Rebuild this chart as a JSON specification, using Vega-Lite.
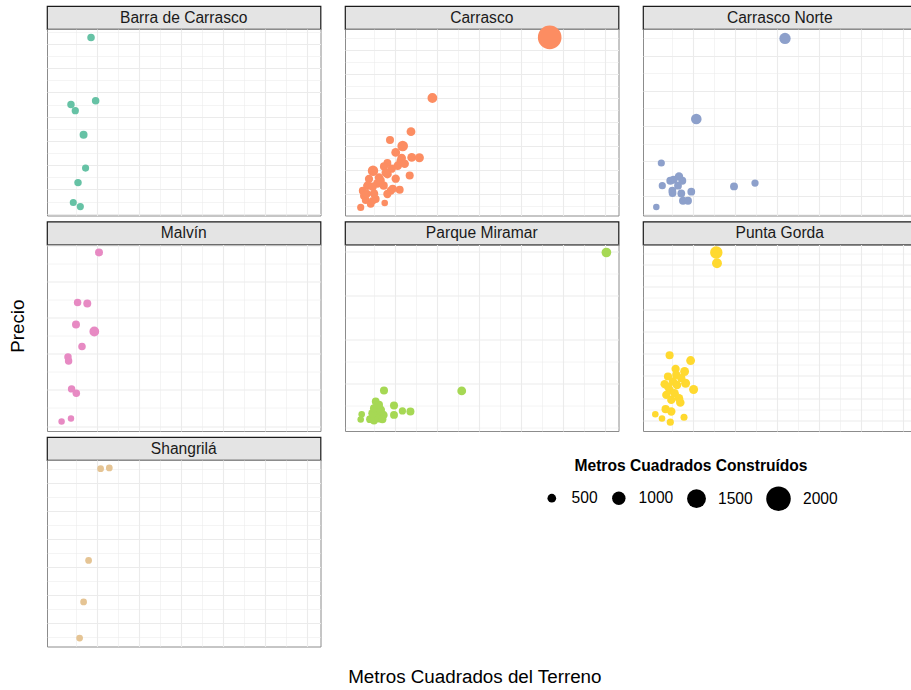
{
  "$schema": "https://vega.github.io/schema/vega-lite/v6.json",
  "padding": {"left": 8, "top": 5, "right": 5, "bottom": 5},
  "config": {
    "font": "Liberation Sans",
    "view": {"stroke": "#8C8C8C", "strokeWidth": 1},
    "axis": {"labels": false, "ticks": false, "domain": false, "grid": true, "gridColor": "#EBEBEB", "minExtent": 0, "maxExtent": 0},
    "title": {"fontWeight": "normal", "fontSize": 18.8, "color": "#000000"}
  },
  "datasets": {
    "casas": [
      {"barrio": "Barra de Carrasco", "terreno": 1730, "precio": 827000, "construidos": 350},
      {"barrio": "Barra de Carrasco", "terreno": 1950, "precio": 566000, "construidos": 350},
      {"barrio": "Barra de Carrasco", "terreno": 775, "precio": 550000, "construidos": 330},
      {"barrio": "Barra de Carrasco", "terreno": 980, "precio": 525000, "construidos": 300},
      {"barrio": "Barra de Carrasco", "terreno": 1375, "precio": 426000, "construidos": 410},
      {"barrio": "Barra de Carrasco", "terreno": 1470, "precio": 288000, "construidos": 280},
      {"barrio": "Barra de Carrasco", "terreno": 1110, "precio": 228000, "construidos": 330},
      {"barrio": "Barra de Carrasco", "terreno": 885, "precio": 146000, "construidos": 270},
      {"barrio": "Barra de Carrasco", "terreno": 1220, "precio": 129000, "construidos": 290},

      {"barrio": "Carrasco", "terreno": 9380, "precio": 3762000, "construidos": 1920},
      {"barrio": "Carrasco", "terreno": 3795, "precio": 2500000, "construidos": 630},
      {"barrio": "Carrasco", "terreno": 2776, "precio": 1798000, "construidos": 520},
      {"barrio": "Carrasco", "terreno": 1776, "precio": 1625000, "construidos": 420},
      {"barrio": "Carrasco", "terreno": 2381, "precio": 1500000, "construidos": 720},
      {"barrio": "Carrasco", "terreno": 2048, "precio": 1367000, "construidos": 520},
      {"barrio": "Carrasco", "terreno": 2810, "precio": 1262000, "construidos": 520},
      {"barrio": "Carrasco", "terreno": 3176, "precio": 1255000, "construidos": 540},
      {"barrio": "Carrasco", "terreno": 2333, "precio": 1250000, "construidos": 500},
      {"barrio": "Carrasco", "terreno": 1652, "precio": 1146000, "construidos": 400},
      {"barrio": "Carrasco", "terreno": 1490, "precio": 1075000, "construidos": 430},
      {"barrio": "Carrasco", "terreno": 2714, "precio": 887500, "construidos": 420},
      {"barrio": "Carrasco", "terreno": 967, "precio": 985400, "construidos": 700},
      {"barrio": "Carrasco", "terreno": 1652, "precio": 916700, "construidos": 520},
      {"barrio": "Carrasco", "terreno": 1252, "precio": 845800, "construidos": 480},
      {"barrio": "Carrasco", "terreno": 776, "precio": 812500, "construidos": 450},
      {"barrio": "Carrasco", "terreno": 1176, "precio": 720800, "construidos": 500},
      {"barrio": "Carrasco", "terreno": 700, "precio": 672900, "construidos": 500},
      {"barrio": "Carrasco", "terreno": 1810, "precio": 568800, "construidos": 410},
      {"barrio": "Carrasco", "terreno": 2238, "precio": 589600, "construidos": 400},
      {"barrio": "Carrasco", "terreno": 1652, "precio": 500000, "construidos": 450},
      {"barrio": "Carrasco", "terreno": 1014, "precio": 512500, "construidos": 480},
      {"barrio": "Carrasco", "terreno": 538, "precio": 464600, "construidos": 400},
      {"barrio": "Carrasco", "terreno": 619, "precio": 375000, "construidos": 380},
      {"barrio": "Carrasco", "terreno": 1095, "precio": 395800, "construidos": 400},
      {"barrio": "Carrasco", "terreno": 857, "precio": 291700, "construidos": 360},
      {"barrio": "Carrasco", "terreno": 1524, "precio": 312500, "construidos": 150},
      {"barrio": "Carrasco", "terreno": 381, "precio": 220800, "construidos": 280},
      {"barrio": "Carrasco", "terreno": 2286, "precio": 1193700, "construidos": 480},
      {"barrio": "Carrasco", "terreno": 2143, "precio": 1089600, "construidos": 500},
      {"barrio": "Carrasco", "terreno": 1857, "precio": 1027100, "construidos": 460},
      {"barrio": "Carrasco", "terreno": 1333, "precio": 777100, "construidos": 440},
      {"barrio": "Carrasco", "terreno": 952, "precio": 652100, "construidos": 440},
      {"barrio": "Carrasco", "terreno": 476, "precio": 568800, "construidos": 380},
      {"barrio": "Carrasco", "terreno": 667, "precio": 506300, "construidos": 400},
      {"barrio": "Carrasco", "terreno": 952, "precio": 360400, "construidos": 360},
      {"barrio": "Carrasco", "terreno": 1905, "precio": 610400, "construidos": 420},
      {"barrio": "Carrasco", "terreno": 1476, "precio": 672900, "construidos": 440},
      {"barrio": "Carrasco", "terreno": 2048, "precio": 818800, "construidos": 460},
      {"barrio": "Carrasco", "terreno": 2476, "precio": 1131300, "construidos": 480},
      {"barrio": "Carrasco", "terreno": 1571, "precio": 943700, "construidos": 460},

      {"barrio": "Carrasco Norte", "terreno": 6395, "precio": 1097800, "construidos": 790},
      {"barrio": "Carrasco Norte", "terreno": 2171, "precio": 639800, "construidos": 720},
      {"barrio": "Carrasco Norte", "terreno": 505, "precio": 389800, "construidos": 280},
      {"barrio": "Carrasco Norte", "terreno": 552, "precio": 260800, "construidos": 290},
      {"barrio": "Carrasco Norte", "terreno": 933, "precio": 289200, "construidos": 400},
      {"barrio": "Carrasco Norte", "terreno": 1090, "precio": 294900, "construidos": 410},
      {"barrio": "Carrasco Norte", "terreno": 1348, "precio": 313600, "construidos": 460},
      {"barrio": "Carrasco Norte", "terreno": 1505, "precio": 289200, "construidos": 400},
      {"barrio": "Carrasco Norte", "terreno": 1300, "precio": 260800, "construidos": 380},
      {"barrio": "Carrasco Norte", "terreno": 1029, "precio": 232400, "construidos": 370},
      {"barrio": "Carrasco Norte", "terreno": 1040, "precio": 219300, "construidos": 380},
      {"barrio": "Carrasco Norte", "terreno": 1457, "precio": 217000, "construidos": 380},
      {"barrio": "Carrasco Norte", "terreno": 1933, "precio": 226700, "construidos": 380},
      {"barrio": "Carrasco Norte", "terreno": 1538, "precio": 175600, "construidos": 400},
      {"barrio": "Carrasco Norte", "terreno": 1776, "precio": 175600, "construidos": 400},
      {"barrio": "Carrasco Norte", "terreno": 3967, "precio": 256800, "construidos": 400},
      {"barrio": "Carrasco Norte", "terreno": 4967, "precio": 276100, "construidos": 300},
      {"barrio": "Carrasco Norte", "terreno": 267, "precio": 139800, "construidos": 130},

      {"barrio": "Malvín", "terreno": 2110, "precio": 580600, "construidos": 410},
      {"barrio": "Malvín", "terreno": 1090, "precio": 442100, "construidos": 340},
      {"barrio": "Malvín", "terreno": 1552, "precio": 439300, "construidos": 410},
      {"barrio": "Malvín", "terreno": 1014, "precio": 381200, "construidos": 410},
      {"barrio": "Malvín", "terreno": 1886, "precio": 361800, "construidos": 630},
      {"barrio": "Malvín", "terreno": 1300, "precio": 320200, "construidos": 350},
      {"barrio": "Malvín", "terreno": 633, "precio": 291400, "construidos": 330},
      {"barrio": "Malvín", "terreno": 662, "precio": 280300, "construidos": 330},
      {"barrio": "Malvín", "terreno": 805, "precio": 202800, "construidos": 330},
      {"barrio": "Malvín", "terreno": 1029, "precio": 190900, "construidos": 340},
      {"barrio": "Malvín", "terreno": 329, "precio": 112500, "construidos": 100},
      {"barrio": "Malvín", "terreno": 776, "precio": 120800, "construidos": 100},

      {"barrio": "Parque Miramar", "terreno": 12081, "precio": 1993200, "construidos": 620},
      {"barrio": "Parque Miramar", "terreno": 5191, "precio": 420450, "construidos": 520},
      {"barrio": "Parque Miramar", "terreno": 1490, "precio": 425000, "construidos": 420},
      {"barrio": "Parque Miramar", "terreno": 1095, "precio": 300000, "construidos": 380},
      {"barrio": "Parque Miramar", "terreno": 1967, "precio": 254500, "construidos": 420},
      {"barrio": "Parque Miramar", "terreno": 2367, "precio": 193200, "construidos": 300},
      {"barrio": "Parque Miramar", "terreno": 2748, "precio": 186400, "construidos": 420},
      {"barrio": "Parque Miramar", "terreno": 1967, "precio": 147700, "construidos": 400},
      {"barrio": "Parque Miramar", "terreno": 429, "precio": 155700, "construidos": 150},
      {"barrio": "Parque Miramar", "terreno": 381, "precio": 95400, "construidos": 150},
      {"barrio": "Parque Miramar", "terreno": 824, "precio": 98800, "construidos": 380},
      {"barrio": "Parque Miramar", "terreno": 1014, "precio": 84100, "construidos": 400},
      {"barrio": "Parque Miramar", "terreno": 1176, "precio": 147700, "construidos": 500},
      {"barrio": "Parque Miramar", "terreno": 1333, "precio": 204500, "construidos": 500},
      {"barrio": "Parque Miramar", "terreno": 1462, "precio": 147700, "construidos": 480},
      {"barrio": "Parque Miramar", "terreno": 1252, "precio": 110200, "construidos": 480},
      {"barrio": "Parque Miramar", "terreno": 1414, "precio": 98800, "construidos": 420},
      {"barrio": "Parque Miramar", "terreno": 938, "precio": 167000, "construidos": 450},
      {"barrio": "Parque Miramar", "terreno": 1014, "precio": 223800, "construidos": 420},
      {"barrio": "Parque Miramar", "terreno": 1252, "precio": 261400, "construidos": 420},

      {"barrio": "Punta Gorda", "terreno": 3124, "precio": 1706800, "construidos": 900},
      {"barrio": "Punta Gorda", "terreno": 3157, "precio": 1610800, "construidos": 640},
      {"barrio": "Punta Gorda", "terreno": 900, "precio": 785700, "construidos": 420},
      {"barrio": "Punta Gorda", "terreno": 1900, "precio": 738100, "construidos": 520},
      {"barrio": "Punta Gorda", "terreno": 1186, "precio": 662800, "construidos": 450},
      {"barrio": "Punta Gorda", "terreno": 1614, "precio": 639500, "construidos": 530},
      {"barrio": "Punta Gorda", "terreno": 824, "precio": 594600, "construidos": 440},
      {"barrio": "Punta Gorda", "terreno": 662, "precio": 525600, "construidos": 450},
      {"barrio": "Punta Gorda", "terreno": 1062, "precio": 549800, "construidos": 450},
      {"barrio": "Punta Gorda", "terreno": 1662, "precio": 534500, "construidos": 540},
      {"barrio": "Punta Gorda", "terreno": 1252, "precio": 519300, "construidos": 480},
      {"barrio": "Punta Gorda", "terreno": 2043, "precio": 478000, "construidos": 540},
      {"barrio": "Punta Gorda", "terreno": 900, "precio": 474500, "construidos": 460},
      {"barrio": "Punta Gorda", "terreno": 1138, "precio": 444900, "construidos": 480},
      {"barrio": "Punta Gorda", "terreno": 743, "precio": 429600, "construidos": 460},
      {"barrio": "Punta Gorda", "terreno": 1348, "precio": 400000, "construidos": 480},
      {"barrio": "Punta Gorda", "terreno": 981, "precio": 384800, "construidos": 460},
      {"barrio": "Punta Gorda", "terreno": 1410, "precio": 361400, "construidos": 480},
      {"barrio": "Punta Gorda", "terreno": 710, "precio": 301300, "construidos": 440},
      {"barrio": "Punta Gorda", "terreno": 981, "precio": 280700, "construidos": 460},
      {"barrio": "Punta Gorda", "terreno": 219, "precio": 256500, "construidos": 150},
      {"barrio": "Punta Gorda", "terreno": 538, "precio": 217900, "construidos": 150},
      {"barrio": "Punta Gorda", "terreno": 933, "precio": 184800, "construidos": 280},
      {"barrio": "Punta Gorda", "terreno": 1586, "precio": 229600, "construidos": 260},
      {"barrio": "Punta Gorda", "terreno": 824, "precio": 504900, "construidos": 440},
      {"barrio": "Punta Gorda", "terreno": 1219, "precio": 609000, "construidos": 440},
      {"barrio": "Punta Gorda", "terreno": 1457, "precio": 579400, "construidos": 440},

      {"barrio": "Shangrilá", "terreno": 2186, "precio": 750600, "construidos": 200},
      {"barrio": "Shangrilá", "terreno": 2600, "precio": 753100, "construidos": 200},
      {"barrio": "Shangrilá", "terreno": 1614, "precio": 424200, "construidos": 200},
      {"barrio": "Shangrilá", "terreno": 1376, "precio": 276200, "construidos": 200},
      {"barrio": "Shangrilá", "terreno": 1186, "precio": 148000, "construidos": 200}
    ]
  },
  "data": {"name": "casas"},
  "title": {"text": "Metros Cuadrados del Terreno", "orient": "bottom", "anchor": "middle", "offset": 21, "dx": 12},
  "vconcat": [
    {
      "title": {"text": "Precio", "orient": "left", "anchor": "middle", "offset": 19},
      "columns": 3,
      "spacing": {"row": 4.5, "column": 22},
      "concat": [
        {
          "spacing": 0,
          "bounds": "flush",
          "vconcat": [
            {"width": 273.5, "height": 23, "view": {"fill": "#E4E4E4", "stroke": "#1A1A1A", "strokeWidth": 1.2},
             "transform": [{"filter": "datum.barrio === 'Barra de Carrasco'"}, {"aggregate": [{"op": "count", "as": "n"}], "groupby": ["barrio"]}],
             "mark": {"type": "text", "fontSize": 15.6, "color": "#1A1A1A"},
             "encoding": {"text": {"field": "barrio"}}},
            {"width": 273.5, "height": 186.5,
             "transform": [{"filter": "datum.barrio === 'Barra de Carrasco'"}],
             "mark": {"type": "circle", "opacity": 1},
             "encoding": {
               "x": {"field": "terreno", "type": "quantitative", "title": null, "scale": {"domain": [-366.7, 12657], "nice": false, "zero": false},
                     "axis": {"values": [1000, 2000, 3000, 4000, 5000, 6000, 7000, 8000, 9000, 10000, 11000, 12000],
                              "gridWidth": {"condition": {"test": "datum.value % 2000 === 0", "value": 1.1}, "value": 0.55}}},
               "y": {"field": "precio", "type": "quantitative", "title": null, "scale": {"domain": [92285, 861971], "nice": false, "zero": false},
                     "axis": {"values": [100000, 150000, 200000, 250000, 300000, 350000, 400000, 450000, 500000, 550000, 600000, 650000, 700000, 750000, 800000, 850000],
                              "gridWidth": {"condition": {"test": "datum.value % 100000 === 0", "value": 1.1}, "value": 0.55}}},
               "size": {"field": "construidos", "type": "quantitative", "scale": {"type": "pow", "exponent": 2, "domain": [0, 2000], "range": [40, 602]},
                        "legend": {"title": "Metros Cuadrados Construídos", "orient": "none", "legendX": 497, "legendY": 453, "direction": "horizontal",
                                   "values": [500, 1000, 1500, 2000], "format": "d", "symbolType": "circle", "symbolFillColor": "#000000", "symbolStrokeWidth": 0, "symbolOpacity": 1,
                                   "labelFontSize": 15.6, "labelColor": "#000000", "labelOffset": 12, "columnPadding": 13,
                                   "titleFontSize": 15.6, "titleFontWeight": "bold", "titleColor": "#000000", "titleAnchor": "middle", "titlePadding": 11.5, "titleLimit": 400}},
               "color": {"field": "barrio", "type": "nominal", "legend": null,
                         "scale": {"domain": ["Barra de Carrasco", "Carrasco", "Carrasco Norte", "Malvín", "Parque Miramar", "Punta Gorda", "Shangrilá"],
                                   "range": ["#66C2A5", "#FC8D62", "#8DA0CB", "#E78AC3", "#A6D854", "#FFD92F", "#E5C494"]}}
             }}
          ]
        },
        {
          "spacing": 0,
          "bounds": "flush",
          "vconcat": [
            {"width": 273.5, "height": 23, "view": {"fill": "#E4E4E4", "stroke": "#1A1A1A", "strokeWidth": 1.2},
             "transform": [{"filter": "datum.barrio === 'Carrasco'"}, {"aggregate": [{"op": "count", "as": "n"}], "groupby": ["barrio"]}],
             "mark": {"type": "text", "fontSize": 15.6, "color": "#1A1A1A"},
             "encoding": {"text": {"field": "barrio"}}},
            {"width": 273.5, "height": 186.5,
             "transform": [{"filter": "datum.barrio === 'Carrasco'"}],
             "mark": {"type": "circle", "opacity": 1},
             "encoding": {
               "x": {"field": "terreno", "type": "quantitative", "title": null, "scale": {"domain": [-366.7, 12657], "nice": false, "zero": false},
                     "axis": {"values": [1000, 2000, 3000, 4000, 5000, 6000, 7000, 8000, 9000, 10000, 11000, 12000],
                              "gridWidth": {"condition": {"test": "datum.value % 2000 === 0", "value": 1.1}, "value": 0.55}}},
               "y": {"field": "precio", "type": "quantitative", "title": null, "scale": {"domain": [52090, 3937445], "nice": false, "zero": false},
                     "axis": {"values": [250000, 500000, 750000, 1000000, 1250000, 1500000, 1750000, 2000000, 2250000, 2500000, 2750000, 3000000, 3250000, 3500000, 3750000],
                              "gridWidth": {"condition": {"test": "datum.value % 500000 === 0", "value": 1.1}, "value": 0.55}}},
               "size": {"field": "construidos", "type": "quantitative", "scale": {"type": "pow", "exponent": 2, "domain": [0, 2000], "range": [40, 602]}},
               "color": {"field": "barrio", "type": "nominal", "legend": null}
             }}
          ]
        },
        {
          "spacing": 0,
          "bounds": "flush",
          "vconcat": [
            {"width": 273.5, "height": 23, "view": {"fill": "#E4E4E4", "stroke": "#1A1A1A", "strokeWidth": 1.2},
             "transform": [{"filter": "datum.barrio === 'Carrasco Norte'"}, {"aggregate": [{"op": "count", "as": "n"}], "groupby": ["barrio"]}],
             "mark": {"type": "text", "fontSize": 15.6, "color": "#1A1A1A"},
             "encoding": {"text": {"field": "barrio"}}},
            {"width": 273.5, "height": 186.5,
             "transform": [{"filter": "datum.barrio === 'Carrasco Norte'"}],
             "mark": {"type": "circle", "opacity": 1},
             "encoding": {
               "x": {"field": "terreno", "type": "quantitative", "title": null, "scale": {"domain": [-366.7, 12657], "nice": false, "zero": false},
                     "axis": {"values": [1000, 2000, 3000, 4000, 5000, 6000, 7000, 8000, 9000, 10000, 11000, 12000],
                              "gridWidth": {"condition": {"test": "datum.value % 2000 === 0", "value": 1.1}, "value": 0.55}}},
               "y": {"field": "precio", "type": "quantitative", "title": null, "scale": {"domain": [91474, 1151167], "nice": false, "zero": false},
                     "axis": {"values": [100000, 200000, 300000, 400000, 500000, 600000, 700000, 800000, 900000, 1000000, 1100000],
                              "gridWidth": {"condition": {"test": "datum.value % 200000 === 0", "value": 1.1}, "value": 0.55}}},
               "size": {"field": "construidos", "type": "quantitative", "scale": {"type": "pow", "exponent": 2, "domain": [0, 2000], "range": [40, 602]}},
               "color": {"field": "barrio", "type": "nominal", "legend": null}
             }}
          ]
        },
        {
          "spacing": 0,
          "bounds": "flush",
          "vconcat": [
            {"width": 273.5, "height": 23, "view": {"fill": "#E4E4E4", "stroke": "#1A1A1A", "strokeWidth": 1.2},
             "transform": [{"filter": "datum.barrio === 'Malvín'"}, {"aggregate": [{"op": "count", "as": "n"}], "groupby": ["barrio"]}],
             "mark": {"type": "text", "fontSize": 15.6, "color": "#1A1A1A"},
             "encoding": {"text": {"field": "barrio"}}},
            {"width": 273.5, "height": 186.5,
             "transform": [{"filter": "datum.barrio === 'Malvín'"}],
             "mark": {"type": "circle", "opacity": 1},
             "encoding": {
               "x": {"field": "terreno", "type": "quantitative", "title": null, "scale": {"domain": [-366.7, 12657], "nice": false, "zero": false},
                     "axis": {"values": [1000, 2000, 3000, 4000, 5000, 6000, 7000, 8000, 9000, 10000, 11000, 12000],
                              "gridWidth": {"condition": {"test": "datum.value % 2000 === 0", "value": 1.1}, "value": 0.55}}},
               "y": {"field": "precio", "type": "quantitative", "title": null, "scale": {"domain": [86153, 602758], "nice": false, "zero": false},
                     "axis": {"values": [100000, 150000, 200000, 250000, 300000, 350000, 400000, 450000, 500000, 550000, 600000],
                              "gridWidth": {"condition": {"test": "datum.value % 100000 === 0", "value": 1.1}, "value": 0.55}}},
               "size": {"field": "construidos", "type": "quantitative", "scale": {"type": "pow", "exponent": 2, "domain": [0, 2000], "range": [40, 602]}},
               "color": {"field": "barrio", "type": "nominal", "legend": null}
             }}
          ]
        },
        {
          "spacing": 0,
          "bounds": "flush",
          "vconcat": [
            {"width": 273.5, "height": 23, "view": {"fill": "#E4E4E4", "stroke": "#1A1A1A", "strokeWidth": 1.2},
             "transform": [{"filter": "datum.barrio === 'Parque Miramar'"}, {"aggregate": [{"op": "count", "as": "n"}], "groupby": ["barrio"]}],
             "mark": {"type": "text", "fontSize": 15.6, "color": "#1A1A1A"},
             "encoding": {"text": {"field": "barrio"}}},
            {"width": 273.5, "height": 186.5,
             "transform": [{"filter": "datum.barrio === 'Parque Miramar'"}],
             "mark": {"type": "circle", "opacity": 1},
             "encoding": {
               "x": {"field": "terreno", "type": "quantitative", "title": null, "scale": {"domain": [-366.7, 12657], "nice": false, "zero": false},
                     "axis": {"values": [1000, 2000, 3000, 4000, 5000, 6000, 7000, 8000, 9000, 10000, 11000, 12000],
                              "gridWidth": {"condition": {"test": "datum.value % 2000 === 0", "value": 1.1}, "value": 0.55}}},
               "y": {"field": "precio", "type": "quantitative", "title": null, "scale": {"domain": [-35244, 2084142], "nice": false, "zero": false},
                     "axis": {"values": [0, 250000, 500000, 750000, 1000000, 1250000, 1500000, 1750000, 2000000],
                              "gridWidth": {"condition": {"test": "datum.value % 500000 === 0 && datum.value > 0", "value": 1.1}, "value": 0.55}}},
               "size": {"field": "construidos", "type": "quantitative", "scale": {"type": "pow", "exponent": 2, "domain": [0, 2000], "range": [40, 602]}},
               "color": {"field": "barrio", "type": "nominal", "legend": null}
             }}
          ]
        },
        {
          "spacing": 0,
          "bounds": "flush",
          "vconcat": [
            {"width": 273.5, "height": 23, "view": {"fill": "#E4E4E4", "stroke": "#1A1A1A", "strokeWidth": 1.2},
             "transform": [{"filter": "datum.barrio === 'Punta Gorda'"}, {"aggregate": [{"op": "count", "as": "n"}], "groupby": ["barrio"]}],
             "mark": {"type": "text", "fontSize": 15.6, "color": "#1A1A1A"},
             "encoding": {"text": {"field": "barrio"}}},
            {"width": 273.5, "height": 186.5,
             "transform": [{"filter": "datum.barrio === 'Punta Gorda'"}],
             "mark": {"type": "circle", "opacity": 1},
             "encoding": {
               "x": {"field": "terreno", "type": "quantitative", "title": null, "scale": {"domain": [-366.7, 12657], "nice": false, "zero": false},
                     "axis": {"values": [1000, 2000, 3000, 4000, 5000, 6000, 7000, 8000, 9000, 10000, 11000, 12000],
                              "gridWidth": {"condition": {"test": "datum.value % 2000 === 0", "value": 1.1}, "value": 0.55}}},
               "y": {"field": "precio", "type": "quantitative", "title": null, "scale": {"domain": [105826, 1778544], "nice": false, "zero": false},
                     "axis": {"values": [200000, 300000, 400000, 500000, 600000, 700000, 800000, 900000, 1000000, 1100000, 1200000, 1300000, 1400000, 1500000, 1600000, 1700000],
                              "gridWidth": {"condition": {"test": "datum.value % 200000 === 0", "value": 1.1}, "value": 0.55}}},
               "size": {"field": "construidos", "type": "quantitative", "scale": {"type": "pow", "exponent": 2, "domain": [0, 2000], "range": [40, 602]}},
               "color": {"field": "barrio", "type": "nominal", "legend": null}
             }}
          ]
        },
        {
          "spacing": 0,
          "bounds": "flush",
          "vconcat": [
            {"width": 273.5, "height": 23, "view": {"fill": "#E4E4E4", "stroke": "#1A1A1A", "strokeWidth": 1.2},
             "transform": [{"filter": "datum.barrio === 'Shangrilá'"}, {"aggregate": [{"op": "count", "as": "n"}], "groupby": ["barrio"]}],
             "mark": {"type": "text", "fontSize": 15.6, "color": "#1A1A1A"},
             "encoding": {"text": {"field": "barrio"}}},
            {"width": 273.5, "height": 186.5,
             "transform": [{"filter": "datum.barrio === 'Shangrilá'"}],
             "mark": {"type": "circle", "opacity": 1},
             "encoding": {
               "x": {"field": "terreno", "type": "quantitative", "title": null, "scale": {"domain": [-366.7, 12657], "nice": false, "zero": false},
                     "axis": {"values": [1000, 2000, 3000, 4000, 5000, 6000, 7000, 8000, 9000, 10000, 11000, 12000],
                              "gridWidth": {"condition": {"test": "datum.value % 2000 === 0", "value": 1.1}, "value": 0.55}}},
               "y": {"field": "precio", "type": "quantitative", "title": null, "scale": {"domain": [117787, 781541], "nice": false, "zero": false},
                     "axis": {"values": [150000, 200000, 250000, 300000, 350000, 400000, 450000, 500000, 550000, 600000, 650000, 700000, 750000],
                              "gridWidth": {"condition": {"test": "datum.value % 100000 === 0", "value": 1.1}, "value": 0.55}}},
               "size": {"field": "construidos", "type": "quantitative", "scale": {"type": "pow", "exponent": 2, "domain": [0, 2000], "range": [40, 602]}},
               "color": {"field": "barrio", "type": "nominal", "legend": null}
             }}
          ]
        }
      ]
    }
  ]
}
